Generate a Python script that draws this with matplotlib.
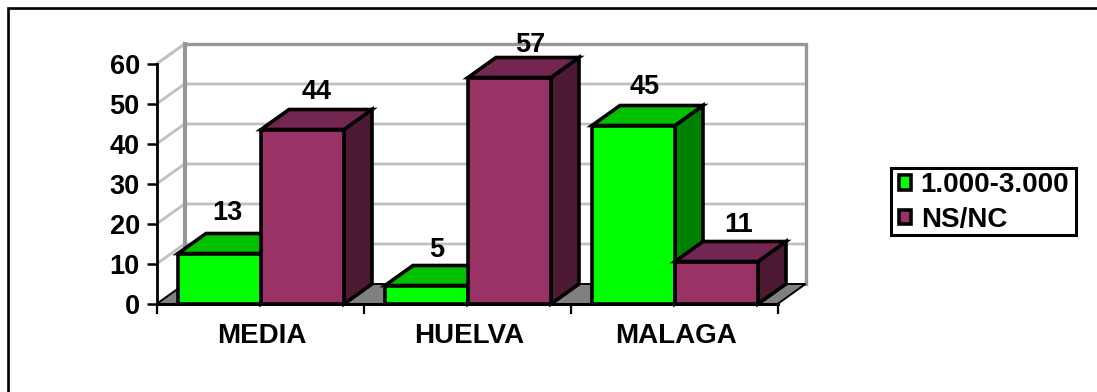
import matplotlib
matplotlib.use("Agg")
import matplotlib.pyplot as plt
from matplotlib.lines import Line2D
from matplotlib.patches import Polygon, Rectangle, Patch

categories = ["MEDIA", "HUELVA", "MALAGA"]
series_names = ["1.000-3.000", "NS/NC"]
values_a = [13, 5, 45]
values_b = [44, 57, 11]
yticks = [0, 10, 20, 30, 40, 50, 60]

W, H = 1097, 392
plt.rcParams["font.family"] = ["Liberation Sans", "DejaVu Sans"]
plt.rcParams["font.weight"] = "bold"
FS = 19.5
fig = plt.figure(figsize=(W / 100, H / 100), dpi=100)
fig.add_artist(Line2D([8 / W, 8 / W, 1], [0, 1 - 8 / H, 1 - 8 / H], color="black", lw=1.9,
                      solid_joinstyle="miter", solid_capstyle="butt"))

ax = fig.add_axes([156.5 / W, 1 - 304 / H, 621 / W, 240 / H])
ax.set_xlim(0, 3)
ax.set_ylim(0, 60)
ax.patch.set_alpha(0)
for s in ("top", "right"):
    ax.spines[s].set_visible(False)
ax.spines["left"].set_linewidth(2.0)
ax.spines["bottom"].set_linewidth(2.2)

PX = 3 / 621       # one pixel in x data units
PY = 60 / 240      # one pixel in y data units
DX = 28 * PX
DY = 20 * PY
BW = 83 * PX
OFF = 21.5 * PX
INSET = 1.5 * PY
GREY = "#969696"
GRID = "#c0c0c0"

# back wall, side wall and floor
for v in yticks[1:-1]:
    ax.plot([0, DX, 3 + DX], [v, v + DY, v + DY], color=GRID, lw=2, zorder=1, clip_on=False, solid_capstyle="butt")
ax.plot([0, DX], [60, 60 + DY], color=GRID, lw=2.2, zorder=1, clip_on=False)
ax.plot([DX, DX], [DY, 60 + DY], color=GREY, lw=3, zorder=1.5, clip_on=False)
ax.plot([DX, 3 + DX, 3 + DX], [60 + DY, 60 + DY, DY], color=GREY, lw=2.4, zorder=1.5, clip_on=False, solid_joinstyle="miter")
ax.add_patch(Polygon([(0, 0), (DX, DY), (3 + DX, DY), (3, 0)], fc="#808080", ec="black", lw=1.4, zorder=2, clip_on=False))

# label placement per bar, in pixels: (shift right of the front-face centre, gap above the back edge)
NUDGE_A = [(8, 12), (10, 7), (11, 10)]
NUDGE_B = [(14, 9), (21, 4), (22, 8)]


def bar3d(x, v, front, top, side, z, nudge):
    t = v - INSET
    kw = dict(ec="black", lw=2.6, joinstyle="miter", zorder=z, clip_on=False)
    ax.add_patch(Polygon([(x + BW, 0), (x + BW + DX, DY), (x + BW + DX, t + DY), (x + BW, t)], fc=side, **kw))
    ax.add_patch(Polygon([(x, t), (x + DX, t + DY), (x + BW + DX, t + DY), (x + BW, t)], fc=top, **kw))
    ax.add_patch(Rectangle((x, 0), BW, t, fc=front, **kw))
    ax.text(x + BW / 2 + nudge[0] * PX, v + DY + nudge[1] * PY, str(v), ha="center", va="baseline",
            fontsize=FS, fontweight="bold", zorder=10, clip_on=False)


GREENS = ("#00ff00", "#00c000", "#008000")
PURPLES = ("#993366", "#732650", "#4d1a33")
for i, (a, b) in enumerate(zip(values_a, values_b)):
    bar3d(i + OFF, a, *GREENS, 3 + i, NUDGE_A[i])
    bar3d(i + OFF + BW, b, *PURPLES, 3.5 + i, NUDGE_B[i])

ax.set_yticks(yticks)
ax.set_xticks([0, 1, 2, 3])
ax.set_xticklabels([])
ax.set_xticks([0.5 + i + 2 * PX for i in range(len(categories))], minor=True)
ax.set_xticklabels(categories, minor=True, fontsize=20, fontweight="bold")
ax.tick_params(axis="x", which="major", length=7, width=1.6, direction="out")
ax.tick_params(axis="x", which="minor", length=0, pad=14)
ax.tick_params(axis="y", length=7, width=1.8, pad=5, labelsize=FS)

fig.add_artist(Rectangle((890.5 / W, 1 - 235 / H), 185.5 / W, 67.5 / H, transform=fig.transFigure,
                         fill=False, ec="black", lw=2.2, joinstyle="miter"))
handles = [Patch(fc=GREENS[0], ec="black", lw=2.6, label=series_names[0]),
           Patch(fc=PURPLES[0], ec="black", lw=2.6, label=series_names[1])]
leg = ax.legend(handles=handles, loc="upper left", bbox_to_anchor=(899 / W, 1 - 172.5 / H),
                bbox_transform=fig.transFigure, prop={"size": 20, "weight": "bold"},
                frameon=False, borderaxespad=0, borderpad=0,
                handlelength=0.44, handleheight=0.44, handletextpad=0.34, labelspacing=0.3)
fig.savefig("out.png", dpi=100)
